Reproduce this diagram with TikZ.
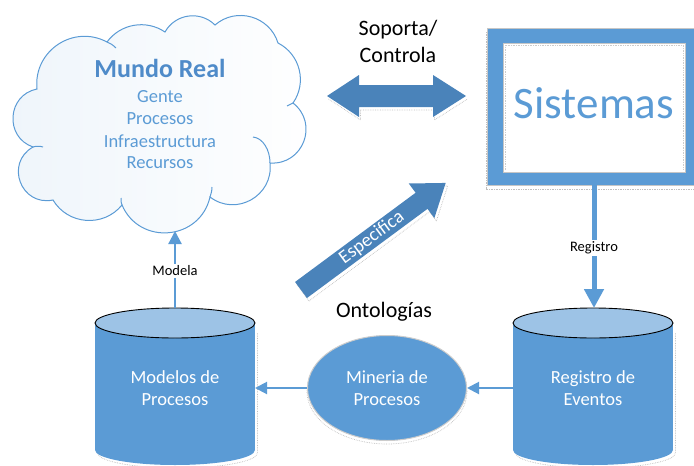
\documentclass[tikz,border=0pt]{standalone}
\usepackage{fontspec}
\setmainfont{Carlito}
\usetikzlibrary{shapes.geometric,arrows.meta}
\definecolor{acc}{RGB}{91,155,213}
\definecolor{accdark}{RGB}{74,131,186}
\definecolor{acclight}{RGB}{157,195,230}
\definecolor{ttl}{RGB}{79,139,201}
\tikzset{
 cloudline/.style={draw=acc, line width=1pt},
 cloudtxt/.style={text=acc, font=\fontsize{18.5}{22}\selectfont, inner sep=0pt},
 wtxt/.style={text=white, font=\fontsize{18.5}{22}\selectfont, align=center, inner sep=0pt},
 btxt/.style={text=black, font=\fontsize{22}{25}\selectfont, inner sep=0pt},
 smalllbl/.style={text=black, font=\fontsize{14.5}{16}\selectfont, fill=white, inner sep=1.5pt},
 thinarrow/.style={draw=acc, line width=2pt, -{Triangle[length=12pt,width=12pt]}},
 blockarrow/.style={fill=accdark},
 cylbody/.style={fill=acc},
 cyltop/.style={draw=black, line width=0.9pt, fill=acclight},
 shadowline/.style={draw=gray!50, densely dotted, line width=0.7pt},
}
\begin{document}
\begin{tikzpicture}[x=1pt,y=-1pt]
\useasboundingbox (0,0) rectangle (694,466);
% ---------- cloud ----------
\path[cloudline, left color=acc!10, right color=white]
 (37,89) to[bend left=62, looseness=1.16] (107,42)
 to[bend left=44, looseness=0.99] (165,32)
 to[bend left=53, looseness=1.06] (215,25)
 to[bend left=57, looseness=1.10] (278,43)
 to[bend left=49, looseness=1.03] (293,103)
 to[bend left=73, looseness=1.32] (270,163)
 to[bend left=67, looseness=1.22] (210,197)
 to[bend left=72, looseness=1.29] (122,205)
 to[bend left=55, looseness=1.08] (53,200)
 to[bend left=81, looseness=1.48] (33,147)
 to[bend left=75, looseness=1.34] (37,89) -- cycle;
\draw[cloudline] (107,42) .. controls (110,43) and (113,45) .. (116,48);
\draw[cloudline] (293,103) .. controls (291,104) and (289,105) .. (287,106);
\draw[cloudline] (253,137) .. controls (263,138) and (270,150) .. (270,163);
\draw[cloudline] (210,197) .. controls (211,194) and (212,191) .. (212,187);
\draw[cloudline] (122,205) .. controls (121,203) and (121,201) .. (121,198);
\draw[cloudline] (33,147) .. controls (36,146) and (40,146) .. (43,147);
\coordinate (cloud) at (159,122);
\node[text=ttl, font=\fontsize{26}{30}\selectfont\bfseries, inner sep=0pt] (mundo) at (160,68) {Mundo Real};
\node[cloudtxt] (gente) at (160,97) {Gente};
\node[cloudtxt] (procs) at (160,119) {Procesos};
\node[cloudtxt] (infra) at (160,141) {Infraestructura};
\node[cloudtxt] (recur) at (160,163) {Recursos};
% ---------- sistemas ----------
\draw[shadowline] (486,32) -- (486,189) -- (700,189);
\node[fill=acc, draw=gray!45, line width=0.6pt, minimum width=214pt, minimum height=157pt, inner sep=0pt] (sysframe) at (594,106.5) {};
\node[fill=white, draw=gray!45, line width=0.8pt, minimum width=182pt, minimum height=129pt, inner sep=0pt] (sys) at (594,107.5) {};
\draw[shadowline, draw=gray!40] (505,170) -- (505,45) -- (683,45) -- (683,170);
\node[text=acc, font=\fontsize{45}{50}\selectfont, inner sep=0pt] (systxt) at (594,103) {Sistemas};
% ---------- double arrow ----------
\draw[shadowline, shift={(1.5,3)}] (327,96) -- (359,117) -- (359,107) -- (433,107) -- (433,117) -- (466,96);
\fill[blockarrow] (327,96) -- (359,75) -- (359,85) -- (433,85) -- (433,75) -- (466,96) -- (433,117) -- (433,107) -- (359,107) -- (359,117) -- cycle;
\node[btxt] (sop1) at (398,30) {Soporta/};
\node[btxt] (sop2) at (398,55) {Controla};
% ---------- especifica arrow ----------
\begin{scope}[shift={(303,293)}, rotate=36.5]
\draw[shadowline] (0,10) -- (150,10) -- (150,21.5) -- (180,0) -- (150,-21.5);
\draw[shadowline] (0,-10) -- (0,10);
\end{scope}
\begin{scope}[shift={(301,290)}, rotate=36.5]
\fill[blockarrow] (0,10) -- (150,10) -- (150,21.5) -- (180,0) -- (150,-21.5) -- (150,-10) -- (0,-10) -- cycle;
\node[text=white, font=\fontsize{19}{20}\selectfont, inner sep=0pt, rotate=36.5] (spec) at (88,0) {Especifica};
\end{scope}
\node[btxt] (onto) at (384,312) {Ontologías};
% ---------- modelos cylinder ----------
\begin{scope}[shift={(2.5,3)}]
\draw[shadowline] (255,330) -- (255,450) arc[start angle=0, end angle=180, x radius=80, y radius=15];
\end{scope}
\fill[cylbody] (95,323) rectangle (255,450);
\fill[cylbody] (175,450) ellipse [x radius=80, y radius=15];
\draw[cyltop] (175,323) ellipse [x radius=80, y radius=15];
\node[wtxt] (modelos) at (175,388) {Modelos de\\Procesos};
\coordinate (modN) at (175,308);
\coordinate (modE) at (255,388);
% ---------- registro cylinder ----------
\begin{scope}[shift={(2.5,3)}]
\draw[shadowline] (673,330) -- (673,450) arc[start angle=0, end angle=180, x radius=80, y radius=15];
\end{scope}
\fill[cylbody] (513,323) rectangle (673,450);
\fill[cylbody] (593,450) ellipse [x radius=80, y radius=15];
\draw[cyltop] (593,323) ellipse [x radius=80, y radius=15];
\node[wtxt] (eventos) at (593,388) {Registro de\\Eventos};
\coordinate (evN) at (594,308);
\coordinate (evW) at (513,388);
% ---------- mineria ----------
\draw[shadowline] (387,391.5) ellipse [x radius=80, y radius=52.5];
\node[ellipse, fill=acc, draw=gray!40, line width=1pt, minimum width=159pt, minimum height=105pt, inner sep=0pt] (min) at (387,388) {};
\node[wtxt] (mintxt) at (387,388) {Mineria de\\Procesos};
% ---------- connectors ----------
\coordinate (cloudbot) at (175,231);
\draw[acc, line width=5pt, -{Triangle[length=19pt,width=19pt]}] (sysframe.south) -- (evN);
\node[smalllbl] (reglbl) at (594,248) {Registro};
\draw[acc, line width=2.2pt, -{Triangle[length=13pt,width=13pt]}] (modN) -- (cloudbot);
\node[smalllbl] (modlbl) at (175,271) {Modela};
\draw[thinarrow] (evW) -- (min.east);
\draw[thinarrow] (min.west) -- (modE);
\end{tikzpicture}
\end{document}
